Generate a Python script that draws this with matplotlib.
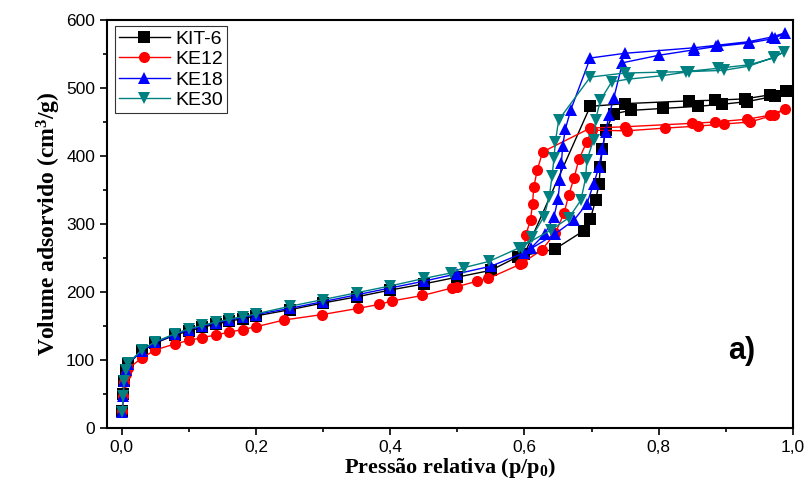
import matplotlib
matplotlib.use("Agg")
import matplotlib.pyplot as plt
from matplotlib.ticker import MultipleLocator, FuncFormatter

# isotherms: adsorption branch followed by desorption branch (p/p0, cm3/g)
kit6_p = [0.001, 0.002, 0.004, 0.006, 0.01, 0.03, 0.05, 0.08, 0.10, 0.12, 0.14, 0.16, 0.18, 0.20,
          0.25, 0.30, 0.35, 0.40, 0.45, 0.50, 0.55, 0.59, 0.645, 0.688, 0.698, 0.706, 0.711, 0.713,
          0.716, 0.721, 0.733, 0.758, 0.807, 0.858, 0.894, 0.932, 0.973, 0.990,
          0.966, 0.929, 0.884, 0.845, 0.750, 0.698, 0.600]
kit6_v = [25, 50, 70, 85, 95, 113, 125, 137, 143, 148, 153, 157, 161, 165,
          174, 184, 193, 203, 212, 222, 232, 252, 263, 290, 307, 335, 359, 384,
          410, 438, 462, 467, 470, 473, 476, 480, 488, 496,
          490, 484, 482, 481, 477, 473, 256]

ke12_p = [0.001, 0.002, 0.004, 0.007, 0.01, 0.03, 0.05, 0.08, 0.10, 0.12, 0.14, 0.16, 0.18, 0.20,
          0.242, 0.299, 0.352, 0.384, 0.403, 0.448, 0.492, 0.50, 0.529, 0.546, 0.594, 0.626, 0.646,
          0.659, 0.666, 0.674, 0.681, 0.693, 0.700, 0.752, 0.809, 0.859, 0.897, 0.936, 0.971, 0.988,
          0.966, 0.931, 0.884, 0.849, 0.750, 0.698, 0.627, 0.619, 0.614, 0.612, 0.609, 0.602, 0.597]
ke12_v = [25, 48, 68, 80, 88, 103, 115, 124, 129, 133, 137, 141, 145, 149,
          159, 167, 176, 182, 187, 195, 206, 208, 216, 220, 241, 262, 287,
          316, 343, 368, 395, 421, 438, 437, 441, 444, 447, 450, 460, 469,
          460, 454, 450, 448, 443, 441, 406, 379, 355, 330, 306, 284, 243]

ke18_p = [0.001, 0.002, 0.004, 0.007, 0.01, 0.03, 0.05, 0.08, 0.10, 0.12, 0.14, 0.16, 0.18, 0.20,
          0.25, 0.30, 0.35, 0.40, 0.45, 0.50, 0.55, 0.60, 0.645, 0.674, 0.693, 0.703, 0.711, 0.716,
          0.721, 0.726, 0.733, 0.746, 0.800, 0.852, 0.886, 0.934, 0.973, 0.988,
          0.969, 0.934, 0.889, 0.852, 0.750, 0.698, 0.669, 0.661, 0.657, 0.655, 0.653, 0.650, 0.644,
          0.630, 0.610]
ke18_v = [24, 48, 70, 85, 95, 114, 126, 138, 145, 150, 155, 159, 163, 167,
          176, 186, 196, 206, 216, 227, 238, 258, 285, 306, 330, 359, 384, 411,
          436, 460, 485, 537, 548, 556, 561, 566, 573, 581,
          575, 568, 563, 559, 551, 544, 468, 440, 415, 390, 365, 337, 311,
          285, 265]

ke30_p = [0.001, 0.002, 0.004, 0.007, 0.01, 0.03, 0.05, 0.08, 0.10, 0.12, 0.14, 0.16, 0.18, 0.20,
          0.25, 0.30, 0.35, 0.40, 0.45, 0.49, 0.51, 0.547, 0.592, 0.639, 0.666, 0.684, 0.691, 0.693,
          0.703, 0.706, 0.713, 0.730, 0.755, 0.805, 0.845, 0.897, 0.934, 0.971, 0.986,
          0.971, 0.934, 0.889, 0.840, 0.750, 0.698, 0.651, 0.646, 0.644, 0.641, 0.637, 0.629, 0.611,
          0.597]
ke30_v = [24, 48, 70, 86, 96, 115, 127, 139, 146, 151, 156, 160, 164, 168,
          179, 189, 199, 209, 220, 228, 236, 245, 265, 291, 309, 335, 367, 394,
          424, 453, 482, 509, 513, 518, 524, 526, 532, 545, 553,
          544, 534, 529, 524, 522, 516, 453, 421, 397, 370, 340, 311, 281,
          265]

series = [
    ("KIT-6", kit6_p, kit6_v, "black", "s"),
    ("KE12", ke12_p, ke12_v, "red", "o"),
    ("KE18", ke18_p, ke18_v, "blue", "^"),
    ("KE30", ke30_p, ke30_v, "#008080", "v"),
]

plt.rcParams["font.family"] = ["Liberation Sans", "DejaVu Sans"]
plt.rcParams["mathtext.fontset"] = "custom"
plt.rcParams["mathtext.rm"] = "Liberation Serif:bold"
plt.rcParams["mathtext.bf"] = "Liberation Serif:bold"
plt.rcParams["mathtext.it"] = "Liberation Serif:bold"

fig = plt.figure(figsize=(8.1, 4.86), dpi=100)
ax = fig.add_axes([0.132, 0.119, 0.847, 0.840])

for name, p, v, col, mk in series:
    ax.plot(p, v, color=col, marker=mk, markersize=8, linewidth=1.0,
            markeredgewidth=0, label=name)

ax.set_xlim(-0.022, 1.0)
ax.set_ylim(0, 600)
ax.xaxis.set_major_locator(MultipleLocator(0.2))
ax.xaxis.set_minor_locator(MultipleLocator(0.1))
ax.yaxis.set_major_locator(MultipleLocator(100))
ax.yaxis.set_minor_locator(MultipleLocator(50))
ax.xaxis.set_major_formatter(FuncFormatter(lambda x, _: f"{x:.1f}".replace(".", ",")))
ax.tick_params(which="both", direction="out", width=1.2, labelsize=12.5)
ax.tick_params(which="major", length=5)
ax.tick_params(which="minor", length=3)
for s in ax.spines.values():
    s.set_linewidth(1.5)

lab_font = dict(family=["Liberation Serif", "DejaVu Serif"], fontweight="bold")
ax.set_xlabel("Pressão relativa (p/p$_{0}$)", labelpad=1, fontsize=16, **lab_font)
ax.set_ylabel("Volume adsorvido (cm$^{3}$/g)", labelpad=2, fontsize=17, **lab_font)

ax.text(0.905, 0.17, "a)", transform=ax.transAxes, fontsize=22, fontweight="bold")

leg = ax.legend(loc="upper left", bbox_to_anchor=(0.012, 0.985), fontsize=14,
                frameon=True, fancybox=False, borderpad=0.2, labelspacing=0.15,
                handlelength=2.6, handletextpad=0.3, borderaxespad=0)
leg.get_frame().set_edgecolor("black")
leg.get_frame().set_linewidth(0.8)

fig.savefig("out.png", dpi=100)
